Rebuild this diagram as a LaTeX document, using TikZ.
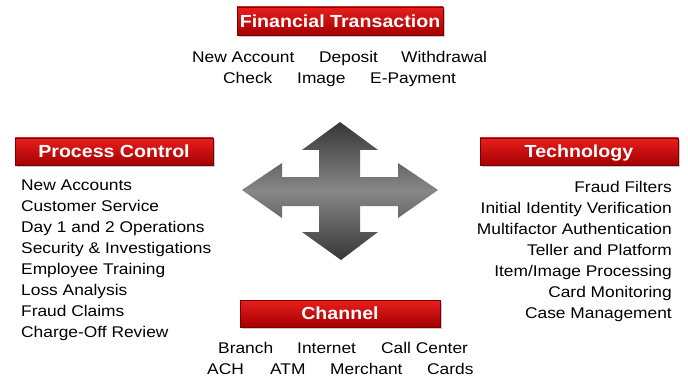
\documentclass[tikz,border=0pt]{standalone}
\usepackage{fontspec}
\setmainfont{Liberation Sans}[FakeStretch=1.12]
\definecolor{hdrtop}{RGB}{232,30,30}
\definecolor{hdrbot}{RGB}{165,0,0}
\definecolor{hdredge}{RGB}{120,0,0}
\definecolor{arrdark}{RGB}{55,55,55}
\definecolor{arrmid}{RGB}{135,135,135}
\begin{document}
\begin{tikzpicture}[x=1pt,y=-1pt,
  hdr/.style={draw=hdredge, line width=0.6pt, top color=hdrtop, bottom color=hdrbot,
    inner sep=0pt, text=white, text height=12.5pt, text depth=0pt,
    font=\fontsize{17.5}{20}\selectfont\bfseries},
  item/.style={inner sep=0pt, text=black, font=\fontsize{15.5}{21}\selectfont}]
\useasboundingbox (0,0) rectangle (688,377);
\fill[white] (0,0) rectangle (688,377);

% header shadows
\fill[black!22] (239,9) rectangle (445,37);
\fill[black!22] (17,140) rectangle (215,167);
\fill[black!22] (482,140) rectangle (680,167);
\fill[black!22] (242,302) rectangle (442,329);

% headers
\node[hdr, minimum width=206pt, minimum height=28pt] (ft) at (340,21) {Financial Transaction};
\node[hdr, minimum width=198pt, minimum height=27pt] (pc) at (114,151.5) {Process Control};
\node[hdr, minimum width=198pt, minimum height=27pt] (te) at (579,151.5) {Technology};
\node[hdr, minimum width=200pt, minimum height=27pt] (ch) at (340,313.5) {Channel};

% four-way arrow
\shade[top color=arrdark, bottom color=arrdark, middle color=arrmid]
  (340,122) -- (378,150) -- (360,150) -- (360,177) -- (398,177) -- (398,163)
  -- (438,190) -- (398,218) -- (398,206) -- (360,206) -- (360,232) -- (378,232)
  -- (341,260) -- (302,232) -- (319,232) -- (319,206) -- (282,206) -- (282,218)
  -- (242,190) -- (282,163) -- (282,177) -- (319,177) -- (319,150) -- (302,150) -- cycle;

% Financial Transaction items
\node[item, anchor=base west] (ft1) at (192,62.5) {New Account};
\node[item, anchor=base west] (ft2) at (319,62.5) {Deposit};
\node[item, anchor=base west] (ft3) at (401,62.5) {Withdrawal};
\node[item, anchor=base west] (ft4) at (223,83.5) {Check};
\node[item, anchor=base west] (ft5) at (297,83.5) {Image};
\node[item, anchor=base west] (ft6) at (370,83.5) {E-Payment};

% Process Control items
\foreach \t [count=\i] in {New Accounts, Customer Service, Day 1 and 2 Operations,
  Security \& Investigations, Employee Training, Loss Analysis, Fraud Claims, Charge-Off Review}
  \node[item, anchor=base west] (pc\i) at (21,{190.5+21*(\i-1)}) {\t};

% Technology items
\foreach \t [count=\i] in {Fraud Filters, Initial Identity Verification, Multifactor Authentication,
  Teller and Platform, Item/Image Processing, Card Monitoring, Case Management}
  \node[item, anchor=base east] (te\i) at (672,{192+21*(\i-1)}) {\t};

% Channel items
\node[item, anchor=base west] (ch1) at (218,353.5) {Branch};
\node[item, anchor=base west] (ch2) at (297,353.5) {Internet};
\node[item, anchor=base west] (ch3) at (381,353.5) {Call Center};
\node[item, anchor=base west] (ch4) at (207,374.5) {ACH};
\node[item, anchor=base west] (ch5) at (270,374.5) {ATM};
\node[item, anchor=base west] (ch6) at (330,374.5) {Merchant};
\node[item, anchor=base west] (ch7) at (427,374.5) {Cards};
\end{tikzpicture}
\end{document}
